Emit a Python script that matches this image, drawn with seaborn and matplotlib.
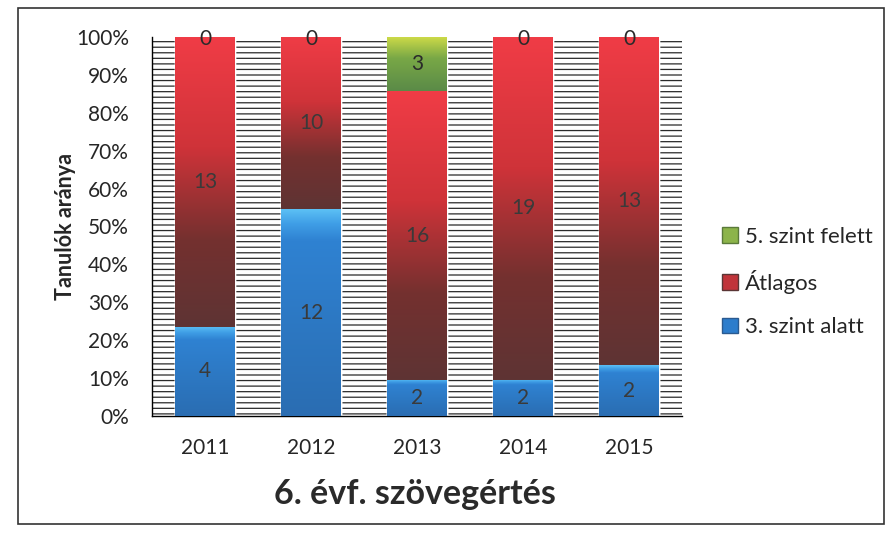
import numpy as np
import pandas as pd
import matplotlib
matplotlib.use("Agg")
import matplotlib.pyplot as plt
from matplotlib.patches import Rectangle, Patch
from matplotlib.colors import LinearSegmentedColormap
import seaborn as sns

years = ["2011", "2012", "2013", "2014", "2015"]
below = [4, 12, 2, 2, 2]        # 3. szint alatt
average = [13, 10, 16, 19, 13]  # Átlagos
above = [0, 0, 3, 0, 0]         # 5. szint felett

sns.set_theme(style="white")
plt.rcParams["font.family"] = ["Lato", "DejaVu Sans"]
plt.rcParams["hatch.linewidth"] = 0.9

b = np.array(below, float)
a = np.array(average, float)
u = np.array(above, float)
tot = b + a + u
pb = b / tot * 100
pa = a / tot * 100
pu = u / tot * 100

df = pd.DataFrame({"year": years, "below": pb, "below_avg": pb + pa,
                   "all": pb + pa + pu})

fig = plt.figure(figsize=(8.89, 5.43), dpi=100)
ax = fig.add_axes([152 / 889, 1 - 416 / 543, 530 / 889, 379 / 543])

# hatched background
ax.add_patch(Rectangle((0, 0), 1, 1, transform=ax.transAxes, facecolor="white",
                       edgecolor="#2a2a2a", hatch="---", linewidth=0, zorder=0))

cols = {"all": "#8cb44a", "below_avg": "#c0343a", "below": "#2d7dcc"}
for key in ["all", "below_avg", "below"]:
    sns.barplot(data=df, x="year", y=key, color=cols[key], width=0.56,
                saturation=1, ax=ax, zorder=2)

cmaps = {
    "below": LinearSegmentedColormap.from_list("b", [(0, "#2a6db2"), (0.85, "#2f82d2"), (0.93, "#3f9ee6"), (1, "#5cc0f5")]),
    "avg": LinearSegmentedColormap.from_list("r", [(0, "#5e3434"), (0.3, "#74302f"), (0.62, "#cf3339"), (1, "#f03c46")]),
    "above": LinearSegmentedColormap.from_list("g", [(0, "#5a8a48"), (0.6, "#79a846"), (1, "#d0dc48")]),
}
grad = np.linspace(0, 1, 256).reshape(-1, 1)
patches = ax.patches[1:]  # skip background rectangle
n = len(years)
lab_fs = 15
for i in range(n):
    p = patches[i]
    x0 = p.get_x(); x1 = x0 + p.get_width()
    segs = [("below", 0, pb[i]), ("avg", pb[i], pb[i] + pa[i]),
            ("above", pb[i] + pa[i], pb[i] + pa[i] + pu[i])]
    for name, y0, y1 in segs:
        if y1 - y0 <= 0:
            continue
        ax.imshow(grad, cmap=cmaps[name], aspect="auto", origin="lower",
                  extent=[x0, x1, y0, y1], zorder=3)
    ax.text(i, pb[i] / 2, str(below[i]), ha="center", va="center",
            fontsize=lab_fs, color="#3a3a3a", zorder=5)
    ax.text(i, pb[i] + pa[i] / 2, str(average[i]), ha="center", va="center",
            fontsize=lab_fs, color="#3a3a3a", zorder=5)
    ax.text(i, pb[i] + pa[i] + pu[i] / 2 if pu[i] > 0 else 99.5, str(above[i]),
            ha="center", va="center", fontsize=lab_fs, color="#2a2a2a", zorder=5)

ax.set_xlim(-0.5, n - 0.5)
ax.set_ylim(0, 100)
ax.set_yticks(np.arange(0, 101, 10))
ax.set_yticklabels([f"{v}%" for v in range(0, 101, 10)], fontsize=15)
ax.set_xticks(range(n))
ax.set_xticklabels(years, fontsize=15)
ax.tick_params(axis="y", direction="inout", length=9, width=1, color="black", pad=12)
ax.tick_params(axis="x", length=0, pad=16)
ax.set_xlabel("")
ax.set_ylabel("Tanulók aránya", fontsize=15.5, fontweight="bold", labelpad=0)
for s in ["top", "right"]:
    ax.spines[s].set_visible(False)
for s in ["left", "bottom"]:
    ax.spines[s].set_color("black")
    ax.spines[s].set_linewidth(1)

handles = [Patch(facecolor="#8cb44a", edgecolor="#5a7a3a"),
           Patch(facecolor="#c0343a", edgecolor="#5a3535"),
           Patch(facecolor="#2d7dcc", edgecolor="#2a5a90")]
fig.legend(handles, ["5. szint felett", "Átlagos", "3. szint alatt"],
           loc="center left", bbox_to_anchor=(702 / 889, 1 - 282 / 543),
           frameon=False, fontsize=16, handlelength=0.7, handleheight=0.7,
           handletextpad=0.35, labelspacing=1.05)

fig.text(415 / 889, 1 - 494 / 543, "6. évf. szövegértés", ha="center",
         va="center", fontsize=24.5, fontweight="bold", color="#2a2a2a")

fig.patches.append(Rectangle((18 / 889, 1 - 524 / 543), 866 / 889, 516 / 543,
                             transform=fig.transFigure, fill=False,
                             edgecolor="#333333", linewidth=1.2))

fig.savefig("out.png", dpi=100)
